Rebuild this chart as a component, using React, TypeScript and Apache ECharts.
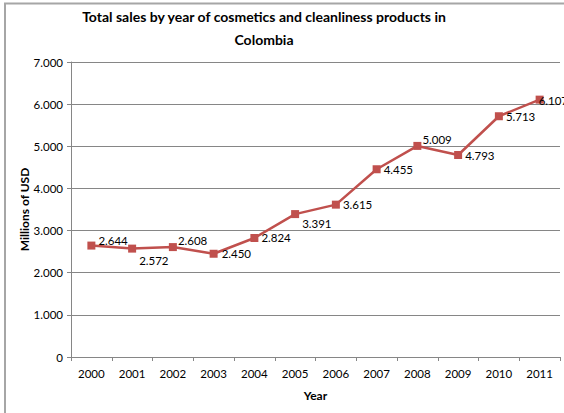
import React, { useEffect, useRef } from "react";
import * as echarts from "echarts";

const years = ["2000", "2001", "2002", "2003", "2004", "2005", "2006", "2007", "2008", "2009", "2010", "2011"];
const sales = [2644, 2572, 2608, 2450, 2824, 3391, 3615, 4455, 5009, 4793, 5713, 6107];
const labelOffsets: [number, number][] = [
  [0, -5], [0, 12], [-2, -7], [1, 0], [0, 0], [0, 9],
  [0, 0], [0, 0], [-2, -6], [0, 0], [0, 0], [-8, 1],
];
const titleText = "Total sales by year of cosmetics and cleanliness products in\nColombia";
const yAxisTitle = "Millions of USD";
const xAxisTitle = "Year";

const FONT = "Lato, 'Open Sans', sans-serif";
const fmt = (v: number) => (v === 0 ? "0" : (v / 1000).toFixed(3));

export default function App() {
  const ref = useRef<HTMLDivElement>(null);
  useEffect(() => {
    if (!ref.current) return;
    const chart = echarts.init(ref.current, undefined, { renderer: "svg" });
    chart.setOption({
      animation: false,
      backgroundColor: "#ffffff",
      title: {
        text: titleText,
        left: 259,
        textAlign: "center",
        top: 0,
        textStyle: { fontFamily: FONT, fontWeight: "bold", fontSize: 14, color: "#000", lineHeight: 23 },
      },
      graphic: [
        { type: "line", shape: { x1: 5, y1: 3, x2: 5, y2: 413 }, style: { stroke: "#a6a6a6", lineWidth: 2 } },
        { type: "line", shape: { x1: 4, y1: 3.5, x2: 564, y2: 3.5 }, style: { stroke: "#a6a6a6", lineWidth: 2 } },
      ],
      grid: { left: 71, right: 4, top: 62, bottom: 56 },
      xAxis: {
        type: "category",
        data: years,
        boundaryGap: true,
        name: xAxisTitle,
        nameLocation: "middle",
        nameGap: 32,
        nameMoveOverlap: false,
        nameTextStyle: { fontFamily: FONT, fontWeight: "bold", fontSize: 12, color: "#000" },
        axisLine: { lineStyle: { color: "#868686", width: 1 } },
        axisTick: { show: true, length: 4, lineStyle: { color: "#868686" } },
        axisLabel: { fontFamily: FONT, fontSize: 11.5, color: "#000", margin: 10 },
      },
      yAxis: {
        type: "value",
        min: 0,
        max: 7000,
        interval: 1000,
        name: yAxisTitle,
        nameLocation: "middle",
        nameGap: 41,
        nameMoveOverlap: false,
        nameTextStyle: { fontFamily: FONT, fontWeight: "bold", fontSize: 12, color: "#000" },
        axisLine: { show: true, lineStyle: { color: "#868686", width: 1 } },
        axisTick: { show: true, length: 4, lineStyle: { color: "#868686" } },
        axisLabel: { fontFamily: FONT, fontSize: 11.5, color: "#000", margin: 8, formatter: fmt },
        splitLine: { lineStyle: { color: "#868686", width: 1 } },
      },
      series: [
        {
          type: "line",
          data: sales.map((v, i) => ({
            value: v,
            label: { offset: labelOffsets[i] },
          })),
          symbol: "rect",
          symbolSize: 8,
          lineStyle: { color: "#c0504d", width: 2.5 },
          itemStyle: { color: "#c0504d" },
          label: {
            show: true,
            position: "right",
            distance: 3,
            fontFamily: FONT,
            fontSize: 11.5,
            color: "#000",
            formatter: (p: any) => fmt(p.value),
          },
        },
      ],
    });
    return () => chart.dispose();
  }, []);
  return <div ref={ref} style={{ position: "fixed", left: 0, top: 0, width: 564, height: 413 }} />;
}
